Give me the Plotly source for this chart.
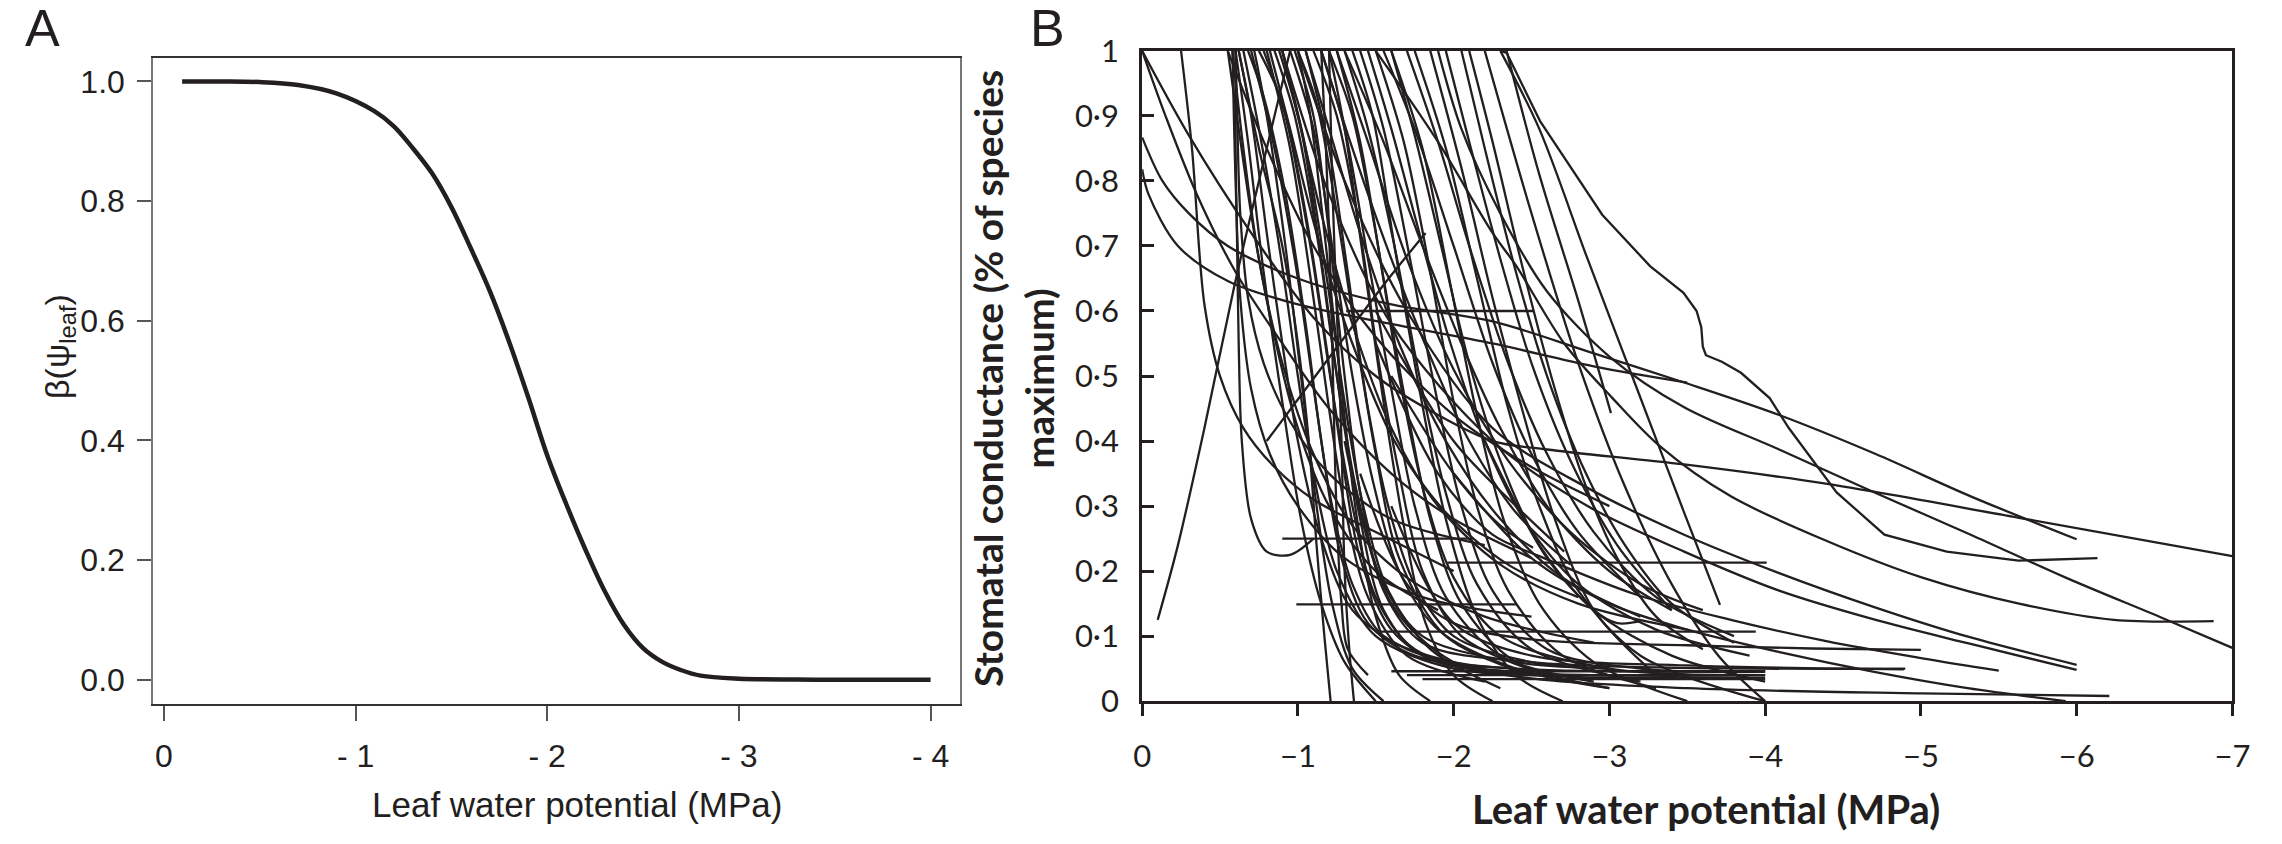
import plotly.graph_objects as go

W, H = 2282, 844
INK = "#231f20"

# ---------------- Panel A data ----------------
a_psi = [-0.095, -0.3, -0.5, -0.7, -0.9, -1.1, -1.2, -1.3, -1.4, -1.5, -1.6, -1.7, -1.8, -1.9,
         -2.0, -2.1, -2.2, -2.3, -2.4, -2.5, -2.6, -2.7, -2.8, -3.0, -3.3, -3.6, -4.0]
a_beta = [1.0, 1.0, 0.999, 0.994, 0.98, 0.95, 0.925, 0.888, 0.846, 0.79, 0.722, 0.65, 0.566, 0.473,
          0.375, 0.293, 0.217, 0.148, 0.092, 0.053, 0.030, 0.016, 0.007, 0.002, 0.0005, 0.0002, 0.0]
a_xticks = [0, -1, -2, -3, -4]
a_xticklabels = ["0", "- 1", "- 2", "- 3", "- 4"]
a_yticks = [0, 0.2, 0.4, 0.6, 0.8, 1.0]
a_yticklabels = ["0.0", "0.2", "0.4", "0.6", "0.8", "1.0"]

# ---------------- Panel B data (one list per species curve) ----------------
b_psi = [
    # dense steep group
    [-0.55, -0.62, -0.72, -0.85, -1.00, -1.20, -1.50, -1.90],
    [-0.62, -0.70, -0.80, -0.90, -1.00, -1.15, -1.35, -1.70, -2.2],
    [-0.65, -0.75, -0.88, -1.00, -1.10, -1.25, -1.50, -2.00, -2.60],
    [-0.70, -0.85, -1.00, -1.12, -1.22, -1.35, -1.55, -2.00, -2.40],
    [-0.75, -0.90, -1.05, -1.18, -1.28, -1.40, -1.60, -1.90, -2.60],
    [-0.80, -0.95, -1.10, -1.20, -1.30, -1.45, -1.70, -2.20],
    [-0.85, -0.98, -1.12, -1.25, -1.38, -1.55, -1.80, -2.40, -3.00],
    [-0.90, -1.05, -1.18, -1.30, -1.42, -1.58, -1.85, -2.30],
    [-0.95, -1.10, -1.22, -1.35, -1.48, -1.65, -1.90, -2.40, -3.00],
    [-1.00, -1.12, -1.25, -1.38, -1.50, -1.65, -1.95, -2.50],
    [-1.05, -1.20, -1.32, -1.45, -1.58, -1.75, -2.00, -2.50, -3.00],
    [-1.10, -1.25, -1.40, -1.52, -1.65, -1.80, -2.05, -2.60],
    [-1.15, -1.30, -1.45, -1.60, -1.75, -1.95, -2.30, -2.90],
    [-1.20, -1.35, -1.50, -1.65, -1.80, -2.00, -2.30, -3.00, -4.00],
    [-1.25, -1.40, -1.55, -1.70, -1.85, -2.05, -2.40, -3.00],
    [-1.30, -1.45, -1.62, -1.78, -1.95, -2.15, -2.50, -3.20],
    [-1.40, -1.55, -1.72, -1.88, -2.05, -2.25, -2.60, -3.20, -4.00],
    [-1.50, -1.68, -1.85, -2.00, -2.15, -2.35, -2.70, -3.30],
    [-1.60, -1.80, -1.98, -2.15, -2.32, -2.55, -2.90, -3.50],
    [-1.75, -1.95, -2.15, -2.35, -2.55, -2.80, -3.20, -4.00],
    [-1.85, -2.05, -2.25, -2.45, -2.65, -2.90, -3.30],
    [-0.68, -0.78, -0.92, -1.05, -1.15, -1.28, -1.45, -1.75, -2.40, -4.00],
    [-0.78, -0.92, -1.08, -1.22, -1.35, -1.50, -1.75, -2.30, -4.00],
    [-0.88, -1.02, -1.15, -1.28, -1.40, -1.55, -1.80, -2.40, -4.00],
    [-0.98, -1.10, -1.20, -1.30, -1.40, -1.55, -1.80, -2.50, -4.90],
    [-0.60, -0.68, -0.78, -0.90, -1.02, -1.15, -1.30, -1.50],
    [-0.72, -0.80, -0.92, -1.02, -1.12, -1.22, -1.35, -1.55],
    [-1.00, -1.08, -1.18, -1.28, -1.38, -1.50, -1.65, -1.85],
    [-1.20, -1.30, -1.42, -1.55, -1.68, -1.82, -2.00, -2.25],
    [-1.35, -1.48, -1.62, -1.78, -1.95, -2.15, -2.40, -2.70],
    [-0.90, -1.00, -1.15, -1.35, -1.60, -1.90, -2.30, -2.80, -3.50],
    [-1.05, -1.20, -1.40, -1.65, -1.95, -2.30, -2.70, -3.20],
    [-0.82, -0.95, -1.12, -1.35, -1.62, -1.95, -2.35, -2.80],
    [-1.45, -1.60, -1.78, -1.98, -2.20, -2.45, -2.80, -3.30, -3.90],
    [-0.58, -0.65, -0.75, -0.90, -1.10, -1.35, -1.70, -2.20, -2.90],
    [-1.60, -1.75, -1.92, -2.10, -2.30, -2.55, -2.90, -3.40, -4.00],
    # curves starting further right at the top
    [-1.30, -1.55, -1.80, -2.05, -2.30, -2.60, -3.00, -3.40],
    [-1.55, -1.75, -2.00, -2.25, -2.50, -2.80, -3.20],
    [-1.70, -1.90, -2.10, -2.35, -2.60, -2.90, -3.30, -3.80],
    [-1.95, -2.10, -2.30, -2.50, -2.75, -3.05, -3.40],
    [-2.05, -2.20, -2.40, -2.60, -2.85, -3.10, -3.40, -3.80],
    [-1.15, -1.35, -1.60, -1.85, -2.10, -2.40, -2.75],
    [-1.25, -1.45, -1.70, -2.00, -2.35, -2.75, -3.20, -3.60],
    [-2.10, -2.25, -2.45, -2.65, -2.85, -3.05, -3.30, -3.60],
    # near-vertical drops and hooks
    [-0.60, -0.60, -0.61, -0.62, -0.64, -0.70, -0.80, -0.95, -1.10],
    [-0.62, -0.75, -0.90, -1.00, -1.07, -1.12, -1.17, -1.21],
    [-0.58, -0.60, -0.63, -0.70, -0.82, -1.00, -1.30, -1.80, -2.50],
    [-0.60, -0.61, -0.63, -0.68, -0.78, -0.95, -1.20, -1.60, -2.20],
    [-1.20, -1.22, -1.25, -1.28, -1.30, -1.33, -1.36],
    [-1.15, -1.18, -1.21, -1.23, -1.25, -1.28, -1.32, -1.45],
    # curves from the left edge
    [0.0, -0.3, -0.7, -1.1, -1.5, -1.9, -2.25, -2.6, -3.48, -4.4, -5.63, -7.0],
    [0.0, -0.15, -0.35, -0.6, -0.9, -1.2, -1.6, -2.0, -2.5],
    [0.0, -0.13, -0.3, -0.55, -1.0, -1.6, -2.25, -2.86, -3.48, -4.09, -4.71, -5.32, -6.0],
    [0.0, -0.04, -0.23, -0.55, -1.0, -1.6, -2.25, -2.9, -3.5],
    [-0.25, -0.32, -0.40, -0.50, -0.65, -0.85, -1.10, -1.50, -2.00],
    [-0.10, -0.23, -0.40, -0.59, -0.75, -0.92, -0.95],
    [-0.80, -1.05, -1.30, -1.55, -1.82],
    [-0.55, -0.80, -1.10, -1.50, -2.00, -2.50, -3.00],
    # long tails to the right
    [-1.90, -2.05, -2.30, -2.60, -3.00, -3.48, -4.09, -4.71, -5.32, -5.93, -6.55, -7.0],
    [-1.50, -1.90, -2.25, -2.40, -2.71, -3.02, -3.32, -3.78, -4.40, -5.01, -5.63, -6.24, -6.88],
    [-1.00, -1.30, -1.70, -2.25, -2.86, -3.48, -4.09, -4.71, -5.32, -6.0],
    [-0.90, -1.20, -1.60, -2.25, -2.86, -3.48, -4.09, -4.71, -5.32, -6.0],
    [-1.50, -1.90, -2.25, -2.55, -3.17, -3.78, -4.40, -5.01, -5.5],
    [-1.40, -1.70, -2.00, -2.50, -3.50, -4.30, -5.00],
    [-1.30, -1.60, -2.00, -2.50, -3.50, -5.00, -6.21],
    [-2.00, -2.50, -3.00, -3.50, -4.10, -4.70, -5.30, -5.93],
    [-2.34, -2.55, -2.80, -3.01],
    [-2.30, -2.55, -2.86, -3.17, -3.48, -3.71],
    [-2.20, -2.50, -2.80, -3.10, -3.40, -3.70, -4.00],
    [-1.60, -2.00, -2.50, -3.50, -4.89],
    [-1.50, -2.00, -2.40, -2.71],
    [-1.60, -2.00, -2.30, -2.51],
    [-2.20, -2.60, -2.90, -3.05, -3.20],
]

b_gs = [
    [1.00, 0.88, 0.72, 0.56, 0.42, 0.30, 0.20, 0.14],
    [1.00, 0.90, 0.72, 0.55, 0.40, 0.25, 0.14, 0.08, 0.05],
    [1.00, 0.88, 0.70, 0.50, 0.35, 0.20, 0.10, 0.05, 0.04],
    [1.00, 0.85, 0.65, 0.45, 0.30, 0.18, 0.10, 0.06, 0.05],
    [1.00, 0.92, 0.75, 0.55, 0.38, 0.22, 0.11, 0.06, 0.04],
    [1.00, 0.85, 0.62, 0.45, 0.30, 0.16, 0.07, 0.03],
    [1.00, 0.90, 0.72, 0.50, 0.32, 0.18, 0.10, 0.06, 0.05],
    [1.00, 0.85, 0.66, 0.46, 0.30, 0.17, 0.08, 0.02],
    [1.00, 0.88, 0.70, 0.50, 0.34, 0.20, 0.11, 0.05, 0.02],
    [1.00, 0.92, 0.75, 0.55, 0.38, 0.22, 0.10, 0.04],
    [1.00, 0.85, 0.66, 0.45, 0.30, 0.18, 0.10, 0.06, 0.05],
    [1.00, 0.90, 0.72, 0.52, 0.35, 0.20, 0.10, 0.04],
    [1.00, 0.88, 0.68, 0.48, 0.30, 0.16, 0.07, 0.03],
    [1.00, 0.90, 0.72, 0.50, 0.33, 0.19, 0.10, 0.05, 0.04],
    [1.00, 0.86, 0.65, 0.45, 0.28, 0.15, 0.06, 0.02],
    [1.00, 0.88, 0.70, 0.50, 0.32, 0.18, 0.08, 0.03],
    [1.00, 0.88, 0.68, 0.48, 0.30, 0.17, 0.08, 0.05, 0.045],
    [1.00, 0.86, 0.66, 0.46, 0.30, 0.17, 0.07, 0.02],
    [1.00, 0.85, 0.64, 0.44, 0.28, 0.15, 0.06, 0.00],
    [1.00, 0.85, 0.65, 0.45, 0.30, 0.17, 0.07, 0.00],
    [1.00, 0.82, 0.62, 0.44, 0.28, 0.14, 0.04],
    [1.00, 0.93, 0.78, 0.58, 0.40, 0.22, 0.12, 0.07, 0.05, 0.046],
    [1.00, 0.90, 0.70, 0.48, 0.30, 0.16, 0.08, 0.045, 0.036],
    [1.00, 0.88, 0.68, 0.45, 0.28, 0.14, 0.07, 0.045, 0.04],
    [1.00, 0.90, 0.72, 0.50, 0.32, 0.17, 0.09, 0.06, 0.05],
    [1.00, 0.86, 0.66, 0.46, 0.28, 0.15, 0.06, 0.00],
    [1.00, 0.90, 0.70, 0.50, 0.30, 0.15, 0.05, 0.00],
    [1.00, 0.90, 0.70, 0.48, 0.28, 0.13, 0.04, 0.00],
    [1.00, 0.88, 0.68, 0.46, 0.27, 0.12, 0.04, 0.00],
    [1.00, 0.90, 0.70, 0.48, 0.28, 0.13, 0.04, 0.00],
    [1.00, 0.90, 0.75, 0.58, 0.42, 0.30, 0.21, 0.15, 0.11],
    [1.00, 0.88, 0.72, 0.55, 0.40, 0.28, 0.19, 0.13],
    [1.00, 0.88, 0.72, 0.55, 0.40, 0.29, 0.21, 0.16],
    [1.00, 0.88, 0.72, 0.55, 0.40, 0.28, 0.18, 0.11, 0.07],
    [1.00, 0.85, 0.68, 0.52, 0.38, 0.27, 0.19, 0.13, 0.09],
    [1.00, 0.87, 0.70, 0.52, 0.37, 0.24, 0.14, 0.07, 0.03],
    [1.00, 0.86, 0.70, 0.55, 0.42, 0.30, 0.20, 0.14],
    [1.00, 0.88, 0.70, 0.52, 0.38, 0.26, 0.16],
    [1.00, 0.86, 0.70, 0.52, 0.38, 0.26, 0.16, 0.10],
    [1.00, 0.86, 0.68, 0.52, 0.37, 0.24, 0.14],
    [1.00, 0.85, 0.66, 0.50, 0.35, 0.24, 0.15, 0.09],
    [1.00, 0.85, 0.68, 0.53, 0.40, 0.29, 0.21],
    [1.00, 0.86, 0.68, 0.51, 0.37, 0.26, 0.18, 0.14],
    [1.00, 0.86, 0.66, 0.48, 0.33, 0.22, 0.13, 0.08],
    [1.00, 0.85, 0.70, 0.55, 0.40, 0.28, 0.23, 0.225, 0.25],
    [1.00, 0.85, 0.70, 0.55, 0.40, 0.24, 0.10, 0.00],
    [1.00, 0.80, 0.62, 0.48, 0.38, 0.30, 0.22, 0.16, 0.13],
    [1.00, 0.90, 0.75, 0.62, 0.52, 0.43, 0.35, 0.28, 0.24],
    [1.00, 0.80, 0.60, 0.40, 0.20, 0.08, 0.00],
    [1.00, 0.85, 0.65, 0.45, 0.28, 0.15, 0.08, 0.04],
    [1.00, 0.87, 0.72, 0.59, 0.50, 0.44, 0.40, 0.387, 0.364, 0.334, 0.282, 0.223],
    [1.00, 0.90, 0.78, 0.66, 0.55, 0.45, 0.35, 0.28, 0.22],
    [0.867, 0.80, 0.75, 0.70, 0.65, 0.61, 0.584, 0.538, 0.49, 0.44, 0.38, 0.315, 0.249],
    [0.818, 0.78, 0.70, 0.646, 0.61, 0.58, 0.55, 0.515, 0.49],
    [1.00, 0.85, 0.61, 0.50, 0.42, 0.36, 0.31, 0.26, 0.20],
    [0.125, 0.24, 0.42, 0.636, 0.80, 0.97, 1.00],
    [0.40, 0.48, 0.56, 0.64, 0.72],
    [1.00, 0.85, 0.70, 0.56, 0.44, 0.36, 0.30],
    [1.00, 0.88, 0.75, 0.63, 0.53, 0.452, 0.387, 0.32, 0.256, 0.19, 0.128, 0.082],
    [1.00, 0.86, 0.72, 0.67, 0.55, 0.466, 0.393, 0.315, 0.246, 0.19, 0.15, 0.125, 0.123],
    [1.00, 0.80, 0.60, 0.42, 0.328, 0.256, 0.197, 0.144, 0.098, 0.056],
    [1.00, 0.78, 0.58, 0.40, 0.30, 0.23, 0.17, 0.125, 0.088, 0.048],
    [0.55, 0.35, 0.256, 0.223, 0.164, 0.125, 0.092, 0.066, 0.047],
    [0.35, 0.18, 0.12, 0.095, 0.086, 0.081, 0.079],
    [0.40, 0.15, 0.06, 0.035, 0.02, 0.012, 0.008],
    [0.35, 0.22, 0.15, 0.11, 0.075, 0.045, 0.02, 0.00],
    [1.00, 0.81, 0.616, 0.443],
    [1.00, 0.88, 0.68, 0.485, 0.29, 0.148],
    [1.00, 0.75, 0.52, 0.33, 0.18, 0.07, 0.00],
    [0.30, 0.12, 0.07, 0.055, 0.049],
    [0.60, 0.40, 0.30, 0.23],
    [0.50, 0.35, 0.27, 0.236],
    [0.40, 0.22, 0.14, 0.12, 0.123],
]

# curve with a sharp shoulder near -3.6 MPa
b_kink_psi = [-2.30, -2.34, -2.555, -2.954, -3.261, -3.476, -3.56, -3.59, -3.60, -3.62,
              -3.722, -3.845, -4.029, -4.152, -4.459, -4.766, -5.166, -5.627, -6.134]
b_kink_gs = [1.0, 0.997, 0.892, 0.748, 0.669, 0.628, 0.60, 0.575, 0.545, 0.532,
             0.522, 0.505, 0.466, 0.42, 0.321, 0.256, 0.230, 0.216, 0.220]

# flat (constant) responses: level, start, end
b_flat_gs = [0.60, 0.25, 0.149, 0.213, 0.107, 0.046, 0.040, 0.034]
b_flat_from = [-1.31, -0.90, -0.99, -1.96, -1.50, -1.60, -1.70, -1.80]
b_flat_to = [-2.51, -2.10, -2.40, -4.01, -3.94, -4.00, -4.00, -4.00]

b_xticks = [0, -1, -2, -3, -4, -5, -6, -7]
b_xticklabels = ["0", "\u22121", "\u22122", "\u22123", "\u22124", "\u22125", "\u22126", "\u22127"]
b_yticks = [0, 0.1, 0.2, 0.3, 0.4, 0.5, 0.6, 0.7, 0.8, 0.9, 1.0]
b_yticklabels = ["0", "0\u00b71", "0\u00b72", "0\u00b73", "0\u00b74", "0\u00b75",
                 "0\u00b76", "0\u00b77", "0\u00b78", "0\u00b79", "1"]

# ---------------- figure ----------------
def px_x(p):
    return p / W

def px_y(p):
    return 1 - p / H

fig = go.Figure()

fig.add_trace(go.Scatter(x=a_psi, y=a_beta, mode="lines", xaxis="x", yaxis="y",
                         line=dict(color=INK, width=4.5, shape="spline", smoothing=1.0),
                         showlegend=False, hoverinfo="skip"))

LW = 2.3
for xs, ys in zip(b_psi, b_gs):
    fig.add_trace(go.Scatter(x=xs, y=ys, mode="lines", xaxis="x2", yaxis="y2",
                             line=dict(color=INK, width=LW, shape="spline", smoothing=0.9),
                             showlegend=False, hoverinfo="skip"))

fig.add_trace(go.Scatter(x=b_kink_psi, y=b_kink_gs, mode="lines", xaxis="x2", yaxis="y2",
                         line=dict(color=INK, width=LW, shape="linear"),
                         showlegend=False, hoverinfo="skip"))

for lvl, x0, x1 in zip(b_flat_gs, b_flat_from, b_flat_to):
    fig.add_trace(go.Scatter(x=[x0, x1], y=[lvl, lvl], mode="lines", xaxis="x2", yaxis="y2",
                             line=dict(color=INK, width=LW),
                             showlegend=False, hoverinfo="skip"))

fontA = dict(family="Liberation Sans, Arial, sans-serif", size=32, color=INK)
fontB = dict(family="Lato, sans-serif", size=31, color=INK)

fig.update_layout(
    width=W, height=H,
    margin=dict(l=0, r=0, t=0, b=0),
    paper_bgcolor="white", plot_bgcolor="white",
    xaxis=dict(domain=[px_x(145.7), px_x(962.7)], range=[0.057, -4.155],
               tickvals=a_xticks, ticktext=a_xticklabels, tickfont=fontA,
               ticks="outside", ticklen=15, tickwidth=1.5, tickcolor="#555",
               showline=True, linecolor="#333", linewidth=1.5, mirror=True,
               showgrid=False, zeroline=False, ticklabelstandoff=8, anchor="y"),
    yaxis=dict(domain=[px_y(716), px_y(39.3)], range=[-0.04, 1.04],
               tickvals=a_yticks, ticktext=a_yticklabels, tickfont=fontA,
               ticks="outside", ticklen=14, tickwidth=1.5, tickcolor="#555",
               showline=True, linecolor="#777", linewidth=1.5, mirror=True,
               showgrid=False, zeroline=False, ticklabelstandoff=6, anchor="x"),
    xaxis2=dict(domain=[px_x(1146.7), px_x(2250)], range=[0, -7],
                tickvals=b_xticks, ticktext=b_xticklabels, tickfont=fontB,
                ticks="outside", ticklen=12, tickwidth=2.5, tickcolor=INK,
                showline=True, linecolor=INK, linewidth=3, mirror=True,
                showgrid=False, zeroline=False, ticklabelstandoff=14, anchor="y2"),
    yaxis2=dict(domain=[px_y(713.3), px_y(32.3)], range=[0, 1],
                tickvals=b_yticks, ticktext=b_yticklabels, tickfont=fontB,
                ticks="inside", ticklen=12, tickwidth=2.5, tickcolor=INK,
                showline=True, linecolor=INK, linewidth=3, mirror=True,
                showgrid=False, zeroline=False, ticklabelstandoff=14, anchor="x2"),
)

annots = [
    dict(text="A", x=px_x(34), y=px_y(8), font=dict(family="Liberation Sans, Arial", size=52, color=INK)),
    dict(text="B", x=px_x(1051), y=px_y(8), font=dict(family="Liberation Sans, Arial", size=52, color=INK)),
    dict(text="Leaf water potential (MPa)", x=px_x(575), y=px_y(822),
         font=dict(family="Liberation Sans, Arial", size=35, color=INK)),
    dict(text="\u03b2(\u03c8<sub>leaf</sub>)", x=px_x(51), y=px_y(342), textangle=-90,
         font=dict(family="Liberation Sans, Arial", size=34, color=INK)),
    dict(text="Leaf water potential (MPa)", x=px_x(1717), y=px_y(826),
         font=dict(family="Lato, sans-serif", size=40, color=INK, weight="bold")),
    dict(text="Stomatal conductance (% of species<br>maximum)", x=px_x(1016), y=px_y(375),
         textangle=-90,
         font=dict(family="Lato, sans-serif", size=39, color=INK, weight="bold")),
]
for a in annots:
    fig.add_annotation(xref="paper", yref="paper", showarrow=False,
                       xanchor="center", yanchor="middle", **a)

fig.write_html("out.html")
